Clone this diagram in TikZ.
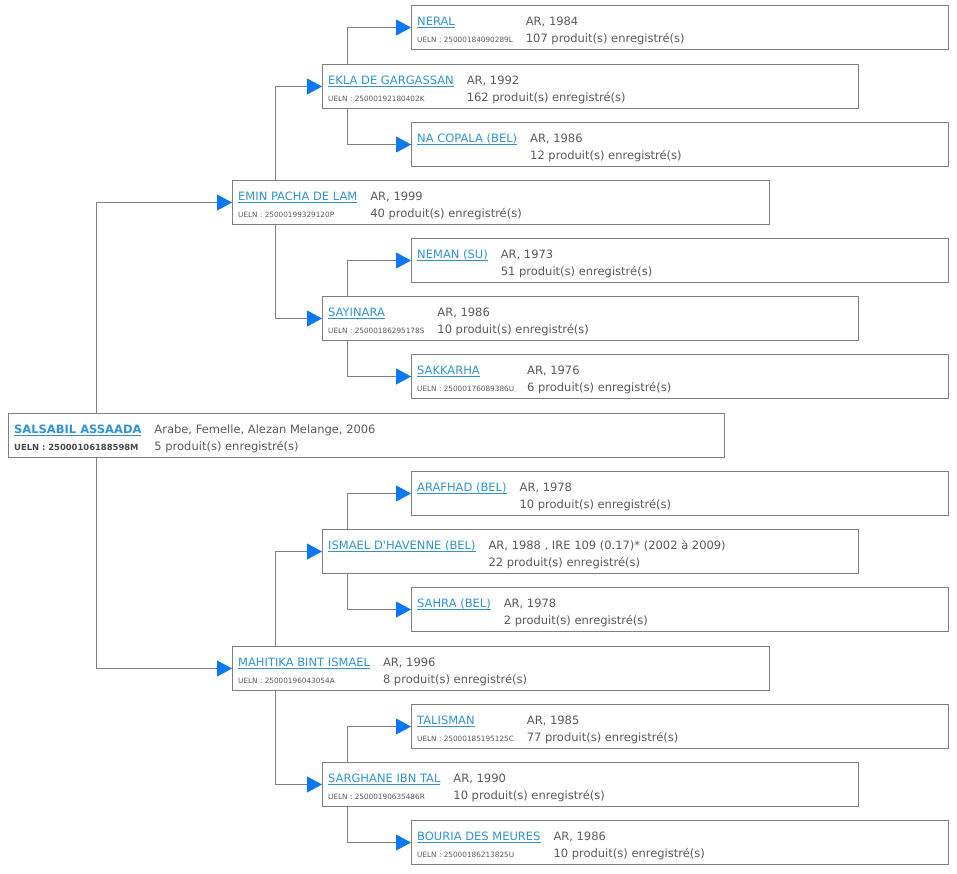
\documentclass[tikz,border=0pt]{standalone}
\usepackage{fontspec}
\setmainfont{DejaVu Sans}[Ligatures=TeXOff]
\usetikzlibrary{arrows.meta}

\definecolor{linkblue}{HTML}{3093CE}
\definecolor{arrowblue}{HTML}{0A78F0}
\definecolor{textgrey}{HTML}{5A5A5A}
\definecolor{boxgrey}{HTML}{7F7F7F}
\definecolor{linegrey}{HTML}{808080}

\newcommand{\linkname}[1]{\setbox0\hbox{#1}\rlap{\rule[-1.8pt]{\wd0}{0.7pt}}\box0}
\newcommand{\horsecell}[4]{%
  \begin{tabular}{@{}l@{\hspace{13pt}}l@{}}
    \textcolor{linkblue}{\linkname{#1}} & #3\\
    {\fontsize{7.3}{8}\selectfont #2} & #4
  \end{tabular}}

\begin{document}
\begin{tikzpicture}[x=1pt,y=-1pt]
	\tikzset{horse/.style={draw=boxgrey,line width=1pt,minimum height=44pt,minimum width=537pt,inner sep=0pt,anchor=north west}}
	\tikzset{horse text/.style={anchor=north west,inner sep=0pt,text=textgrey,font=\fontsize{11.5}{16.5}\selectfont}}
	\tikzset{link/.style={draw=linegrey,line width=1pt,-{Triangle[length=15pt,width=16pt,color=arrowblue]}}}

	\useasboundingbox (0,0) rectangle (957,873);

	\node[horse,minimum width=716pt] (salsabil) at (8,413) {};
	\node[horse] (emin) at (232,180) {};
	\node[horse] (mahitika) at (232,646) {};
	\node[horse,minimum width=536pt] (ekla) at (322,64) {};
	\node[horse,minimum width=536pt] (sayinara) at (322,296) {};
	\node[horse,minimum width=536pt] (ismael) at (322,529) {};
	\node[horse,minimum width=536pt] (sarghane) at (322,762) {};
	\node[horse] (neral) at (411,5) {};
	\node[horse] (nacopala) at (411,122) {};
	\node[horse] (neman) at (411,238) {};
	\node[horse] (sakkarha) at (411,354) {};
	\node[horse] (arafhad) at (411,471) {};
	\node[horse] (sahra) at (411,587) {};
	\node[horse] (talisman) at (411,704) {};
	\node[horse] (bouria) at (411,820) {};

	\draw[link] ([xshift=88pt]salsabil.north west) |- (emin.west);
	\draw[link] ([xshift=88pt]salsabil.south west) |- (mahitika.west);
	\draw[link] ([xshift=43pt]emin.north west) |- (ekla.west);
	\draw[link] ([xshift=43pt]emin.south west) |- (sayinara.west);
	\draw[link] ([xshift=43pt]mahitika.north west) |- (ismael.west);
	\draw[link] ([xshift=43pt]mahitika.south west) |- (sarghane.west);
	\draw[link] ([xshift=25pt]ekla.north west) |- (neral.west);
	\draw[link] ([xshift=25pt]ekla.south west) |- (nacopala.west);
	\draw[link] ([xshift=25pt]sayinara.north west) |- (neman.west);
	\draw[link] ([xshift=25pt]sayinara.south west) |- (sakkarha.west);
	\draw[link] ([xshift=25pt]ismael.north west) |- (arafhad.west);
	\draw[link] ([xshift=25pt]ismael.south west) |- (sahra.west);
	\draw[link] ([xshift=25pt]sarghane.north west) |- (talisman.west);
	\draw[link] ([xshift=25pt]sarghane.south west) |- (bouria.west);

	\node[horse text] (salsabil-t) at ([xshift=6pt,yshift=-9pt]salsabil.north west) {%
	  \begin{tabular}{@{}l@{\hspace{13pt}}l@{}}
	    \textcolor{linkblue}{\bfseries\linkname{SALSABIL ASSAADA}} & Arabe, Femelle, Alezan Melange, 2006\\
	    {\fontsize{8.4}{9}\selectfont\bfseries\color{textgrey!80!black}UELN : 25000106188598M} & 5 produit(s) enregistré(s)
	  \end{tabular}};
	\node[horse text] (emin-t) at ([xshift=6pt,yshift=-9pt]emin.north west)
	  {\horsecell{EMIN PACHA DE LAM}{UELN : 25000199329120P}{AR, 1999}{40 produit(s) enregistré(s)}};
	\node[horse text] (mahitika-t) at ([xshift=6pt,yshift=-9pt]mahitika.north west)
	  {\horsecell{MAHITIKA BINT ISMAEL}{UELN : 25000196043054A}{AR, 1996}{8 produit(s) enregistré(s)}};
	\node[horse text] (ekla-t) at ([xshift=6pt,yshift=-9pt]ekla.north west)
	  {\horsecell{EKLA DE GARGASSAN}{UELN : 25000192180402K}{AR, 1992}{162 produit(s) enregistré(s)}};
	\node[horse text] (sayinara-t) at ([xshift=6pt,yshift=-9pt]sayinara.north west)
	  {\horsecell{SAYINARA}{UELN : 25000186295178S}{AR, 1986}{10 produit(s) enregistré(s)}};
	\node[horse text] (ismael-t) at ([xshift=6pt,yshift=-9pt]ismael.north west)
	  {\horsecell{ISMAEL D'HAVENNE (BEL)}{}{AR, 1988 , IRE 109 (0.17)* (2002 à 2009)}{22 produit(s) enregistré(s)}};
	\node[horse text] (sarghane-t) at ([xshift=6pt,yshift=-9pt]sarghane.north west)
	  {\horsecell{SARGHANE IBN TAL}{UELN : 25000190635486R}{AR, 1990}{10 produit(s) enregistré(s)}};
	\node[horse text] (neral-t) at ([xshift=6pt,yshift=-9pt]neral.north west)
	  {\horsecell{NERAL}{UELN : 25000184090289L}{AR, 1984}{107 produit(s) enregistré(s)}};
	\node[horse text] (nacopala-t) at ([xshift=6pt,yshift=-9pt]nacopala.north west)
	  {\horsecell{NA COPALA (BEL)}{}{AR, 1986}{12 produit(s) enregistré(s)}};
	\node[horse text] (neman-t) at ([xshift=6pt,yshift=-9pt]neman.north west)
	  {\horsecell{NEMAN (SU)}{}{AR, 1973}{51 produit(s) enregistré(s)}};
	\node[horse text] (sakkarha-t) at ([xshift=6pt,yshift=-9pt]sakkarha.north west)
	  {\horsecell{SAKKARHA}{UELN : 25000176089386U}{AR, 1976}{6 produit(s) enregistré(s)}};
	\node[horse text] (arafhad-t) at ([xshift=6pt,yshift=-9pt]arafhad.north west)
	  {\horsecell{ARAFHAD (BEL)}{}{AR, 1978}{10 produit(s) enregistré(s)}};
	\node[horse text] (sahra-t) at ([xshift=6pt,yshift=-9pt]sahra.north west)
	  {\horsecell{SAHRA (BEL)}{}{AR, 1978}{2 produit(s) enregistré(s)}};
	\node[horse text] (talisman-t) at ([xshift=6pt,yshift=-9pt]talisman.north west)
	  {\horsecell{TALISMAN}{UELN : 25000185195125C}{AR, 1985}{77 produit(s) enregistré(s)}};
	\node[horse text] (bouria-t) at ([xshift=6pt,yshift=-9pt]bouria.north west)
	  {\horsecell{BOURIA DES MEURES}{UELN : 25000186213825U}{AR, 1986}{10 produit(s) enregistré(s)}};
\end{tikzpicture}
\end{document}
